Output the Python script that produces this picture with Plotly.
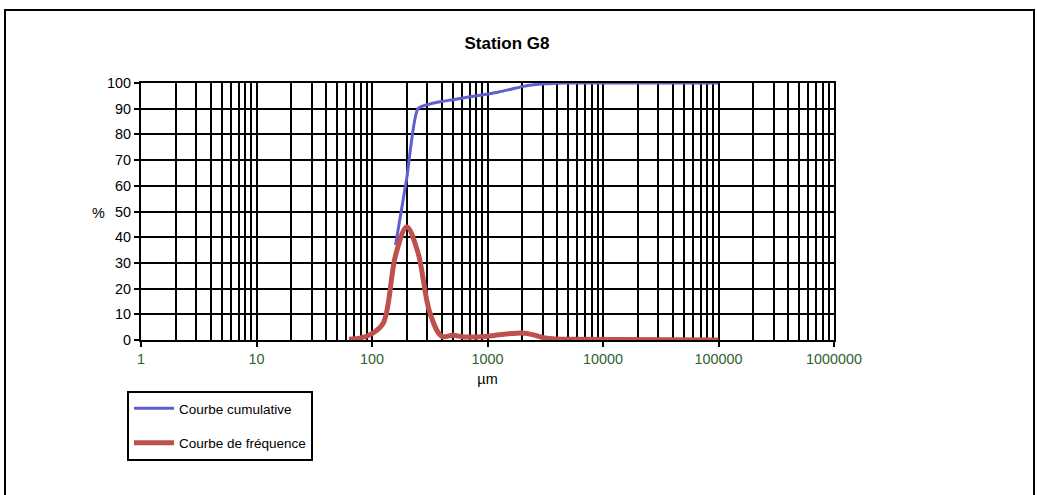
import plotly.graph_objects as go

# Data
sizes_cum = [160, 200, 250, 315, 400, 500, 630, 800, 1000, 1250, 1600, 2000, 2500, 3150, 4000, 5000, 100000]
cumulative = [37, 63, 90, 91.8, 92.8, 93.5, 94.3, 95, 95.7, 96.5, 97.6, 98.6, 99.3, 99.7, 99.9, 100, 100]

sizes_freq = [63, 80, 100, 125, 160, 200, 250, 315, 400, 500, 630, 800, 1000, 1250, 1600, 2000, 2500, 3150, 4000, 5000, 100000]
frequency = [0.3, 0.8, 2.5, 6.5, 33, 44, 34, 11, 1.5, 1.8, 1.2, 1.2, 1.5, 2.0, 2.5, 2.7, 2.0, 0.8, 0.4, 0.3, 0]

x_major = [1, 10, 100, 1000, 10000, 100000, 1000000]
x_labels = ["1", "10", "100", "1000", "10000", "100000", "1000000"]
x_minor = [m * 10 ** k for k in range(6) for m in range(2, 10)]

FONT = "Liberation Sans, Arial, sans-serif"
TICK_SIZE = 14.4

fig = go.Figure()
fig.add_trace(go.Scatter(x=sizes_cum, y=cumulative, mode="lines", name="Courbe cumulative",
                         line=dict(color="#5F5FCF", width=3, shape="spline", smoothing=0.6),
                         legendgroup="a"))
fig.add_trace(go.Scatter(x=sizes_freq, y=frequency, mode="lines", name="Courbe de fréquence",
                         line=dict(color="#C0504D", width=5, shape="spline", smoothing=1.0),
                         legendgroup="b"))

L, R, T, B = 141, 834, 83, 340
W, H = 1037, 495
pw, ph = R - L, B - T

fig.update_layout(
    width=W, height=H,
    margin=dict(l=L, r=W - R, t=T, b=H - B),
    paper_bgcolor="white", plot_bgcolor="white",
    font=dict(family=FONT, size=TICK_SIZE, color="black"),
    title=dict(text="<b>Station G8</b>", x=507 / W, xanchor="center", y=1 - 43 / H, yanchor="middle",
               font=dict(size=17, family=FONT, color="black")),
    showlegend=True,
    legend=dict(x=(127 - L) / pw, y=(B - 391) / ph, xanchor="left", yanchor="top",
                bordercolor="black", borderwidth=2, bgcolor="white",
                font=dict(size=13.5, family=FONT, color="black"),
                tracegroupgap=14, traceorder="grouped", itemwidth=40),
    xaxis=dict(type="log", range=[0, 6], tickmode="array", tickvals=x_major, ticktext=x_labels,
               ticks="outside", ticklen=5, tickwidth=2, tickcolor="black",
               tickfont=dict(color="#2F5F2F", size=TICK_SIZE, family=FONT),
               showgrid=True, gridcolor="black", gridwidth=2,
               minor=dict(tickmode="array", tickvals=x_minor, showgrid=True, gridcolor="black", gridwidth=2, ticks=""),
               showline=True, linecolor="black", linewidth=2, mirror=True,
               title=dict(text="µm", font=dict(size=TICK_SIZE, family=FONT, color="black"), standoff=8),
               zeroline=False),
    yaxis=dict(range=[0, 100], tickmode="linear", tick0=0, dtick=10,
               ticks="outside", ticklen=5, tickwidth=2, tickcolor="black",
               tickfont=dict(color="black", size=TICK_SIZE, family=FONT),
               showgrid=True, gridcolor="black", gridwidth=2,
               showline=True, linecolor="black", linewidth=2, mirror=True,
               zeroline=False),
    annotations=[dict(text="%", xref="paper", yref="paper", x=(90 - L) / pw, y=(B - 213) / ph,
                      showarrow=False, font=dict(size=TICK_SIZE, family=FONT, color="black"))],
    shapes=[dict(type="rect", xref="paper", yref="paper",
                 x0=(5 - L) / pw, x1=(1034 - L) / pw, y0=(B - 520) / ph, y1=(B - 10) / ph,
                 line=dict(color="black", width=2), layer="below")],
)

fig.write_html("out.html", config={"displayModeBar": False},
               post_script="document.body.style.margin='0';document.body.style.overflow='hidden';")
